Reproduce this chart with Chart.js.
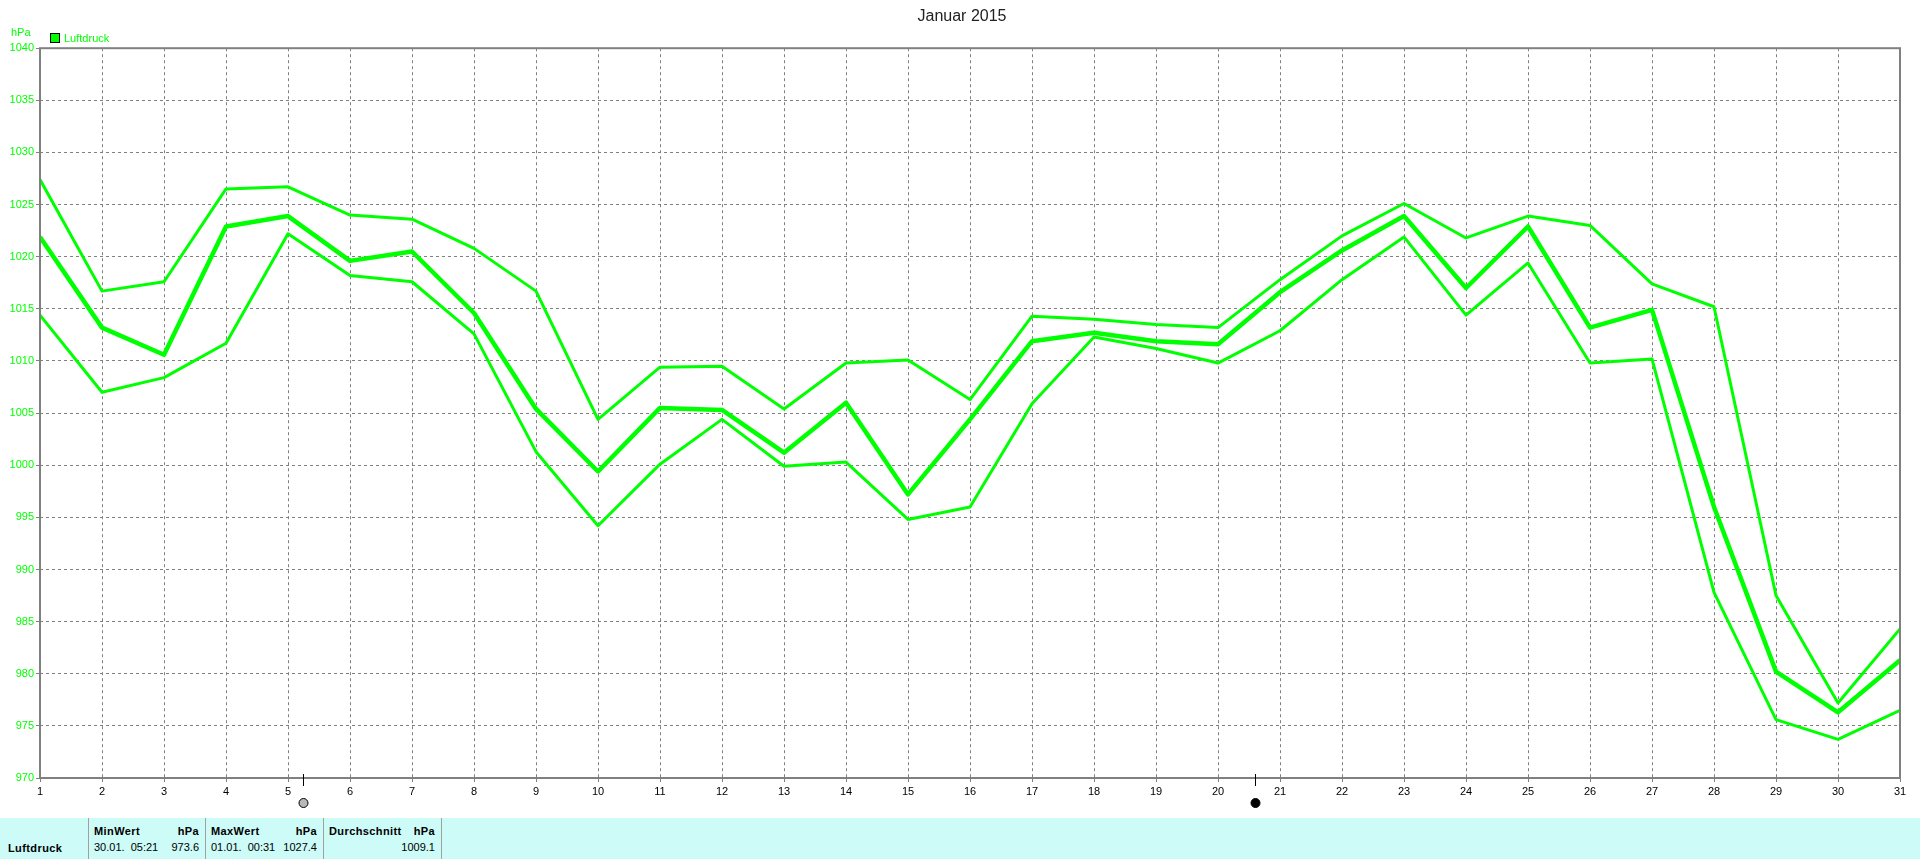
<!DOCTYPE html>
<html lang="de">
<head>
<meta charset="utf-8">
<title>Januar 2015</title>
<script src="https://cdn.jsdelivr.net/npm/chart.js@4"></script>
<style>
	html, body { margin: 0; padding: 0; background: #fff; overflow: hidden; }
	body { position: relative; width: 1920px; height: 859px; font: 11px "Liberation Sans", Arial, sans-serif; }
	canvas { position: absolute; left: 0; top: 0; }
	.unit { position: absolute; left: 11px; top: 26px; color: #00ff00; }
	.legend { position: absolute; left: 50px; top: 32px; color: #00ff00; line-height: 12px; }
	.legend i { display: inline-block; width: 8px; height: 8px; background: #00ff00; border: 1px solid #000; margin-right: 4px; vertical-align: -1px; }
	.panel { position: absolute; left: 0; top: 818px; width: 1920px; height: 41px; background: #ccfbf8; color: #000; }
	.panel div { position: absolute; top: 0; height: 41px; border-right: 1px solid #a0a0a0; box-sizing: border-box; }
	.panel span { position: absolute; white-space: pre; line-height: 13px; }
	.panel b.name { position: absolute; left: 8px; top: 24px; line-height: 13px; letter-spacing: 0.4px; }
	.head { top: 7px; font-weight: bold; letter-spacing: 0.4px; }
	.val { top: 23px; }
</style>
</head>
<body>
<canvas id="chart" width="1920" height="818"></canvas>
<div class="unit">hPa</div>
<div class="legend"><i></i>Luftdruck</div>
<div class="panel" id="panel"><b class="name">Luftdruck</b></div>

<script>
const days = [1, 2, 3, 4, 5, 6, 7, 8, 9, 10, 11, 12, 13, 14, 15, 16, 17, 18, 19, 20, 21, 22, 23, 24, 25, 26, 27, 28, 29, 30, 31];
const maxValues = [1027.4, 1016.7, 1017.6, 1026.5, 1026.7, 1024.0, 1023.6, 1020.8, 1016.7, 1004.4, 1009.4, 1009.5, 1005.4, 1009.8, 1010.1, 1006.3, 1014.3, 1014.0, 1013.5, 1013.2, 1017.8, 1022.0, 1025.1, 1021.8, 1023.9, 1023.0, 1017.4, 1015.2, 987.5, 977.2, 984.3];
const avgValues = [1021.9, 1013.2, 1010.6, 1022.9, 1023.9, 1019.6, 1020.5, 1014.6, 1005.4, 999.4, 1005.5, 1005.3, 1001.2, 1006.0, 997.2, 1004.4, 1011.9, 1012.7, 1011.9, 1011.6, 1016.6, 1020.6, 1023.9, 1017.0, 1022.9, 1013.2, 1014.9, 996.0, 980.2, 976.3, 981.3];
const minValues = [1014.4, 1007.0, 1008.4, 1011.7, 1022.2, 1018.2, 1017.6, 1012.6, 1001.3, 994.2, 1000.1, 1004.4, 999.9, 1000.3, 994.8, 996.0, 1005.9, 1012.3, 1011.2, 1009.8, 1012.9, 1017.8, 1021.9, 1014.4, 1019.4, 1009.8, 1010.2, 987.8, 975.6, 973.7, 976.5];
const moonDays = [5.24, 20.6];
const moonFills = ['#b8b8b8', '#000000'];

const statHeads = ['MinWert', 'MaxWert', 'Durchschnitt'];
const statUnits = ['hPa', 'hPa', 'hPa'];
const statTimes = ['30.01.  05:21', '01.01.  00:31', ''];
const statValues = ['973.6', '1027.4', '1009.1'];

const green = '#00ff00';
const gridGray = '#808080';
const fontFamily = '"Liberation Sans", Arial, sans-serif';

function points(values) {
	return values.map((v, i) => ({ x: days[i], y: v }));
}

// frame round the plot and the moon phases under the x axis
const framePlugin = {
	id: 'frame',
	afterLayout(chart) {
		// title is centred on the whole window, not on the padded box
		chart.titleBlock.left = 0;
		chart.titleBlock.right = 1924;
	},
	afterDraw(chart) {
		const ctx = chart.ctx;
		const a = chart.chartArea;
		ctx.save();
		ctx.strokeStyle = gridGray;
		ctx.lineWidth = 2;
		ctx.strokeRect(a.left, a.top, a.right - a.left, a.bottom - a.top);
		moonDays.forEach((d, i) => {
			const x = Math.round(chart.scales.x.getPixelForValue(d)) + 0.5;
			ctx.strokeStyle = '#000';
			ctx.lineWidth = 1;
			ctx.beginPath();
			ctx.moveTo(x, a.bottom - 4);
			ctx.lineTo(x, a.bottom + 8);
			ctx.stroke();
			ctx.beginPath();
			ctx.arc(x, a.bottom + 25, 4.5, 0, Math.PI * 2);
			ctx.fillStyle = moonFills[i];
			ctx.fill();
			ctx.stroke();
		});
		ctx.restore();
	}
};

new Chart(document.getElementById('chart').getContext('2d'), {
	type: 'line',
	data: {
		datasets: [
			{ label: 'Max', data: points(maxValues), borderWidth: 3 },
			{ label: 'Mittel', data: points(avgValues), borderWidth: 4.5 },
			{ label: 'Min', data: points(minValues), borderWidth: 3 }
		].map(d => Object.assign(d, { borderColor: green, pointRadius: 0, tension: 0, borderJoinStyle: 'round' }))
	},
	options: {
		responsive: false,
		animation: false,
		layout: { padding: { top: 0, left: 0, right: 20, bottom: 0 } },
		plugins: {
			legend: { display: false },
			tooltip: { enabled: false },
			title: {
				display: true,
				text: 'Januar 2015',
				color: '#222',
				font: { family: fontFamily, size: 16, weight: 'normal' },
				padding: { top: 7, bottom: 22 }
			}
		},
		scales: {
			x: {
				type: 'linear',
				min: 1,
				max: 31,
				afterFit(scale) { scale.height = 40; },
				ticks: {
					stepSize: 1,
					autoSkip: false,
					maxRotation: 0,
					color: '#000',
					padding: 3,
					font: { family: fontFamily, size: 11 }
				},
				border: { display: false, dash: [3, 3] },
				grid: { color: gridGray, lineWidth: 1, tickLength: 4, tickColor: gridGray, tickBorderDash: [] }
			},
			y: {
				min: 970,
				max: 1040,
				afterFit(scale) { scale.width = 40; },
				ticks: {
					stepSize: 5,
					color: green,
					padding: 2,
					font: { family: fontFamily, size: 11 },
					callback: v => String(v)
				},
				border: { display: false, dash: [3, 3] },
				grid: { color: gridGray, lineWidth: 1, tickLength: 4, tickColor: gridGray, tickBorderDash: [] }
			}
		}
	},
	plugins: [framePlugin]
});

// stat cells under the chart
const panel = document.getElementById('panel');
const cellEdges = [89, 206, 324, 442];

function addText(text, cls, left, right) {
	const s = document.createElement('span');
	s.className = cls;
	s.textContent = text;
	if (left !== null) s.style.left = left + 'px';
	if (right !== null) s.style.right = (1920 - right) + 'px';
	panel.appendChild(s);
}

cellEdges.forEach(x => {
	const line = document.createElement('div');
	line.style.left = (x - 1) + 'px';
	line.style.width = '1px';
	panel.appendChild(line);
});

statHeads.forEach((h, i) => {
	const l = cellEdges[i] + 5;
	const r = cellEdges[i + 1] - 7;
	addText(h, 'head', l, null);
	addText(statUnits[i], 'head', null, r);
	if (statTimes[i]) addText(statTimes[i], 'val', l, null);
	addText(statValues[i], 'val', null, r);
});
</script>
</body>
</html>
